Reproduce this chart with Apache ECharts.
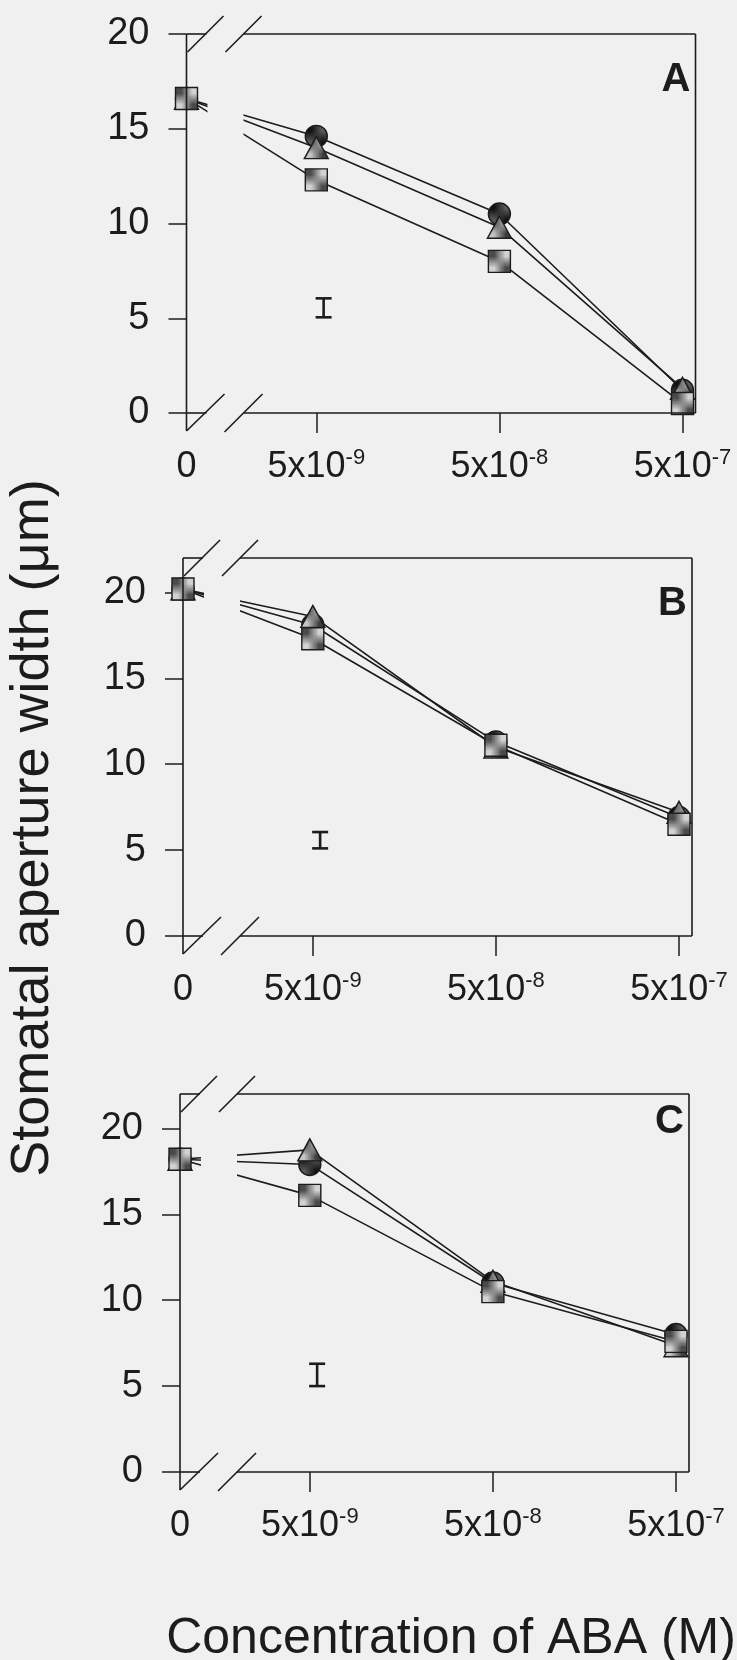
<!DOCTYPE html>
<html><head><meta charset="utf-8">
<script src="https://cdn.jsdelivr.net/npm/echarts@6/dist/echarts.min.js"></script>
<style>html,body{margin:0;padding:0;background:#f0f0f0;} #c{width:737px;height:1660px;}</style>
</head><body><div id="c"></div>
<script>
// ---------------- data ----------------
const concentrations = [0, 5e-9, 5e-8, 5e-7];          // M
const xTickBase = ['0', '5x10', '5x10', '5x10'];
const xTickExp  = ['', '-9', '-8', '-7'];
const yTicks = [0, 5, 10, 15, 20];
const panelNames = ['A', 'B', 'C'];
const yMax = [20, 22, 22];

const circleA   = [16.6, 14.6, 10.5, 1.2];
const triangleA = [16.6, 14.0, 9.8, 1.3];
const squareA   = [16.6, 12.3, 8.0, 0.5];

const circleB   = [20.2, 18.1, 11.3, 6.9];
const triangleB = [20.2, 18.6, 11.0, 7.2];
const squareB   = [20.2, 17.3, 11.1, 6.5];

const circleC   = [18.2, 17.9, 11.0, 8.0];
const triangleC = [18.2, 18.75, 11.1, 7.35];
const squareC   = [18.2, 16.1, 10.5, 7.6];

const errA = [5.05, 6.05];
const errB = [5.1, 6.05];
const errC = [5.0, 6.3];

// ---------------- layout / style ----------------
const BG = '#f0f0f0';
const INK = '#1c1c1c';
const FONT = 'Liberation Sans, Arial, sans-serif';
const X_MIN = -9.01, X_MAX = -6.23;   // log10 axis; the "0" sits at the broken axis start
const layouts = [
  {L: 186.5, W: 509, T: 34,   B: 413, letterY: 26},
  {L: 183,   W: 509, T: 558,  B: 936, letterY: 26},
  {L: 180,   W: 509, T: 1094, B: 1472, letterY: 8}
];
const panels = [
  {circle: circleA, triangle: triangleA, square: squareA, err: errA},
  {circle: circleB, triangle: triangleB, square: squareB, err: errB},
  {circle: circleC, triangle: triangleC, square: squareC, err: errC}
];
const xv = concentrations.map(c => c > 0 ? Math.log10(c) : X_MIN);

function makePattern(c1, c2) {
  const cv = document.createElement('canvas'); cv.width = 4; cv.height = 4;
  const ctx = cv.getContext('2d');
  ctx.fillStyle = c1; ctx.fillRect(0, 0, 4, 4);
  ctx.fillStyle = c2; ctx.fillRect(0, 0, 2, 2); ctx.fillRect(2, 2, 2, 2);
  return {image: cv, repeat: 'repeat'};
}
const patSquare = makePattern('#d2d2d2', '#4a4a4a');
const patTri = makePattern('#c4c4c4', '#3e3e3e');
const patCircle = makePattern('#5a5a5a', '#111111');

const grids = [], xAxes = [], yAxes = [], series = [], graphics = [];

function lineSeries(i, vals, symbol, size, pattern) {
  return {
    type: 'line', xAxisIndex: i, yAxisIndex: i,
    data: vals.map((v, k) => [xv[k], v]),
    symbol: symbol, symbolSize: size, showSymbol: true, silent: true,
    lineStyle: {color: INK, width: 1.6},
    itemStyle: {color: pattern, borderColor: INK, borderWidth: 1.4},
    z: 3
  };
}

layouts.forEach((g, i) => {
  const R = g.L + g.W;
  grids.push({left: g.L, top: g.T, width: g.W, height: g.B - g.T});
  xAxes.push({
    type: 'value', gridIndex: i, min: X_MIN, max: X_MAX,
    axisLine: {show: false}, splitLine: {show: false},
    axisTick: {show: true, length: 20, customValues: xv.slice(1), lineStyle: {color: INK, width: 1.5}},
    axisLabel: {
      customValues: xv, margin: 34, color: INK, fontFamily: FONT,
      formatter: v => {
        let k = 0; xv.forEach((p, j) => { if (Math.abs(p - v) < 1e-6) k = j; });
        return xTickExp[k] ? '{b|' + xTickBase[k] + '}{s|' + xTickExp[k] + '}' : '{b|' + xTickBase[k] + '}';
      },
      rich: {
        b: {fontSize: 36, lineHeight: 40, color: INK, fontFamily: FONT},
        s: {fontSize: 22, lineHeight: 20, verticalAlign: 'top', color: INK, fontFamily: FONT}
      }
    }
  });
  yAxes.push({
    type: 'value', gridIndex: i, min: 0, max: yMax[i], interval: 5,
    axisLine: {show: false}, splitLine: {show: false},
    axisTick: {show: true, length: 18, customValues: yTicks, lineStyle: {color: INK, width: 1.5}},
    axisLabel: {customValues: yTicks, margin: 37, fontSize: 38, color: INK, fontFamily: FONT}
  });

  const p = panels[i];
  series.push(lineSeries(i, p.circle, 'circle', 22, patCircle));
  series.push(lineSeries(i, p.triangle, 'triangle', [24, 22], patTri));
  series.push(lineSeries(i, p.square, 'rect', 22, patSquare));
  series.push({
    type: 'custom', xAxisIndex: i, yAxisIndex: i, silent: true, z: 3,
    encode: {x: 0, y: [1, 2]},
    data: [[xv[1] + 0.04, p.err[0], p.err[1]]],
    renderItem: (params, api) => {
      const a = api.coord([api.value(0), api.value(1)]);
      const b = api.coord([api.value(0), api.value(2)]);
      const hw = 8, st = {stroke: INK, lineWidth: 2.6};
      return {type: 'group', children: [
        {type: 'line', shape: {x1: a[0], y1: a[1], x2: b[0], y2: b[1]}, style: st},
        {type: 'line', shape: {x1: a[0] - hw, y1: a[1], x2: a[0] + hw, y2: a[1]}, style: st},
        {type: 'line', shape: {x1: b[0] - hw, y1: b[1], x2: b[0] + hw, y2: b[1]}, style: st}
      ]};
    }
  });

  // gap of the broken axis (lines are interrupted there)
  graphics.push({type: 'rect', z: 50, shape: {x: g.L + 21, y: g.T + 2, width: 36, height: g.B - g.T - 4}, style: {fill: BG}});
  const ln = (x1, y1, x2, y2) => graphics.push({type: 'line', z: 60, shape: {x1, y1, x2, y2}, style: {stroke: INK, lineWidth: 1.6}});
  ln(g.L, g.T, g.L, g.B + 18);          // y axis
  ln(g.L, g.T, g.L + 20, g.T);          // top stub
  ln(g.L + 57, g.T, R, g.T);            // top border
  ln(R, g.T, R, g.B);                   // right border
  ln(g.L, g.B, g.L + 20, g.B);          // bottom stub
  ln(g.L + 57, g.B, R, g.B);            // x axis
  ln(g.L + 1, g.T + 18, g.L + 37, g.T - 18);
  ln(g.L + 39, g.T + 18, g.L + 75, g.T - 18);
  ln(g.L, g.B + 18, g.L + 38, g.B - 19);
  ln(g.L + 38, g.B + 19, g.L + 76, g.B - 19);
  graphics.push({type: 'text', z: 60, x: R - 5, y: g.T + g.letterY,
    style: {text: panelNames[i], font: 'bold 40px ' + FONT, fill: INK, align: 'right', verticalAlign: 'top'}});
});

graphics.push({type: 'text', z: 60, x: 33, y: 828, rotation: Math.PI / 2,
  style: {text: 'Stomatal aperture width (\u03bcm)', font: '54px ' + FONT, fill: INK, align: 'center', verticalAlign: 'middle'}});
graphics.push({type: 'text', z: 60, x: 451, y: 1639,
  style: {text: 'Concentration of ABA (M)', font: '50px ' + FONT, fill: INK, align: 'center', verticalAlign: 'middle'}});

const chart = echarts.init(document.getElementById('c'), null, {renderer: 'canvas'});
chart.setOption({
  animation: false,
  backgroundColor: BG,
  grid: grids, xAxis: xAxes, yAxis: yAxes, series: series,
  graphic: graphics
});
</script></body></html>
